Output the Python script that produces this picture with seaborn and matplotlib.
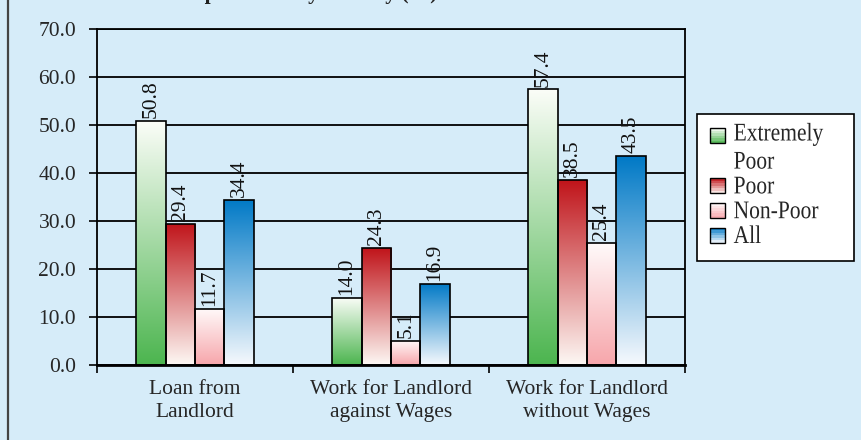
import numpy as np
import pandas as pd
import matplotlib
matplotlib.use("Agg")
import matplotlib.pyplot as plt
import seaborn as sns
from matplotlib.colors import to_rgba
from matplotlib.patches import Rectangle, Patch
from matplotlib.legend_handler import HandlerBase
from matplotlib.lines import Line2D
from matplotlib.patheffects import AbstractPathEffect
from matplotlib.transforms import Affine2D

# ---- data -------------------------------------------------------------
categories = ["Loan from\nLandlord",
              "Work for Landlord\nagainst Wages",
              "Work for Landlord\nwithout Wages"]
groups = ["Extremely\nPoor", "Poor", "Non-Poor", "All"]
extremely_poor = [50.8, 14.0, 57.4]
poor = [29.4, 24.3, 38.5]
non_poor = [11.7, 5.1, 25.4]
all_households = [34.4, 16.9, 43.5]
y_ticks = [0, 10, 20, 30, 40, 50, 60, 70]
title = "Tied Dependence by Poverty (%)"

series = [extremely_poor, poor, non_poor, all_households]
df = pd.DataFrame({
    "category": categories * len(groups),
    "group": [g for g in groups for _ in categories],
    "value": [v for s in series for v in s],
})

# gradient end colours per group: (bottom, top)
gradients = {
    "Extremely\nPoor": ("#4cb54f", "#fbfdf8"),
    "Poor": ("#fdf8f4", "#c0141a"),
    "Non-Poor": ("#f7a6ab", "#fffafa"),
    "All": ("#f6f9fd", "#0079c6"),
}

BG = "#d6ecf9"
FONT = "Liberation Serif"
FS = 15.5


class StretchY(AbstractPathEffect):
    """Draw glyphs taller than wide by scaling them about their baseline."""

    def __init__(self, s):
        super().__init__()
        self.s = s

    def draw_path(self, renderer, gc, tpath, affine, rgbFace=None):
        renderer.draw_path(gc, tpath, Affine2D().scale(1, self.s) + affine,
                           rgbFace)


sns.set_theme(style="white")
plt.rcParams["font.family"] = [FONT, "DejaVu Serif"]

fig = plt.figure(figsize=(8.61, 4.40), dpi=100, facecolor=BG)
ax = fig.add_axes([97 / 861, 1 - 365 / 440, (685 - 97) / 861, (365 - 29) / 440])
ax.set_facecolor(BG)

sns.barplot(data=df, x="category", y="value", hue="group", order=categories,
            hue_order=groups, palette=[gradients[g][0] for g in groups],
            width=0.6, gap=0, saturation=1, edgecolor="black", linewidth=1.2,
            legend=False, ax=ax, zorder=3)


def ramp(bottom, top, n=256):
    b = np.array(to_rgba(bottom))
    t = np.array(to_rgba(top))
    f = np.linspace(0, 1, n)[:, None]
    return (b * (1 - f) + t * f)[:, None, :]


for g, cont in zip(groups, ax.containers):
    bottom, top = gradients[g]
    for bar, val in zip(cont.patches, df[df.group == g].value):
        x0, y0 = bar.get_x(), bar.get_y()
        w, h = bar.get_width(), bar.get_height()
        im = ax.imshow(ramp(bottom, top), extent=[x0, x0 + w, y0, y0 + h],
                       origin="lower", aspect="auto", zorder=2.5,
                       interpolation="bilinear")
        im.set_clip_path(bar)
        bar.set_facecolor("none")
        ax.text(x0 + w / 2, y0 + h + 0.6, f"{val:.1f}", rotation=90,
                ha="center", va="bottom", fontsize=FS, family=FONT,
                color="#111111", zorder=4)

ax.set_xlim(-0.5, 2.5)
ax.set_ylim(0, 70)
ax.set_aspect("auto")
ax.set_yticks(y_ticks)
ax.set_yticklabels([f"{v:.1f}" for v in y_ticks], fontsize=FS, family=FONT)
ax.yaxis.grid(True, color="black", linewidth=1.3)
ax.set_axisbelow(True)

# category labels centred between boundary ticks
ax.set_xticks([-0.5, 0.5, 1.5, 2.5])
ax.set_xticklabels([])
ax.set_xticks([0, 1, 2], minor=True)
ax.set_xticklabels(categories, minor=True, fontsize=FS, family=FONT,
                   linespacing=1.3)
ax.tick_params(axis="x", which="minor", length=0, pad=11)
ax.tick_params(axis="x", which="major", direction="out", length=6,
               width=1.2, color="black", bottom=True)
ax.tick_params(axis="y", direction="out", length=6, width=1.2,
               color="black", left=True, pad=9)
ax.set_xlabel("")
ax.set_ylabel("")
for side in ["left", "right", "top"]:
    ax.spines[side].set_visible(True)
    ax.spines[side].set_color("black")
    ax.spines[side].set_linewidth(1.3)
ax.spines["bottom"].set_color("black")
ax.spines["bottom"].set_linewidth(2.0)


class GradientHandler(HandlerBase):
    """Legend key drawn as a small banded gradient square."""

    def __init__(self, bottom, top, n=6, dy=0.0):
        super().__init__()
        self.bottom, self.top, self.n, self.dy = bottom, top, n, dy

    def create_artists(self, legend, orig_handle, xdescent, ydescent,
                       width, height, fontsize, trans):
        b = np.array(to_rgba(self.bottom))
        t = np.array(to_rgba(self.top))
        y0 = -ydescent + self.dy
        arts = []
        for i in range(self.n):
            f = (i + 0.5) / self.n
            arts.append(Rectangle((-xdescent, y0 + i * height / self.n),
                                  width, height / self.n,
                                  facecolor=b * (1 - f) + t * f,
                                  edgecolor="none", transform=trans))
        arts.append(Rectangle((-xdescent, y0), width, height,
                              fill=False, edgecolor="black", linewidth=1.0,
                              transform=trans))
        return arts


handles = [Patch() for _ in groups]
hmap = {}
for h, g in zip(handles, groups):
    # a two-line label keeps its key beside the first line
    shift = 10.0 if "\n" in g else 0.0
    hmap[h] = GradientHandler(*gradients[g], dy=shift)

leg = fig.legend(handles, groups, handler_map=hmap, loc="upper left",
                 bbox_to_anchor=(697 / 861, 1 - 114 / 440, 157 / 861, 0.001),
                 bbox_transform=fig.transFigure, borderaxespad=0,
                 mode="expand",
                 prop={"family": FONT, "size": FS}, frameon=True,
                 fancybox=False, framealpha=1, handlelength=0.7,
                 handleheight=0.7, handletextpad=0.4, labelspacing=0.22,
                 borderpad=0.6)
leg.get_frame().set_edgecolor("black")
leg.get_frame().set_linewidth(1.2)
leg.get_frame().set_facecolor("white")
for t in leg.get_texts():
    t.set_linespacing(1.65)
    t.set_path_effects([StretchY(1.18)])

# title sits at the very top edge of the canvas
fig.text(437 / 861, 1 + 1 / 440, title, ha="right", va="baseline",
         fontsize=FS, fontweight="bold", family=FONT, color="#222222")

# left frame rule
fig.add_artist(Line2D([8 / 861, 8 / 861], [0, 1], color="#444444",
                      linewidth=1.6, transform=fig.transFigure))

fig.savefig("out.png", dpi=100, facecolor=BG)
